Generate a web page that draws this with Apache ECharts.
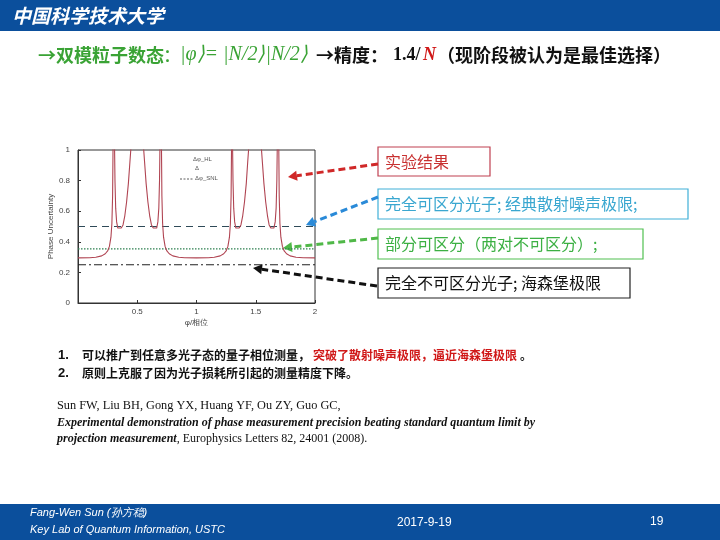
<!DOCTYPE html>
<html><head><meta charset="utf-8">
<script src="https://cdn.jsdelivr.net/npm/echarts@6/dist/echarts.min.js"></script>
<style>html,body{margin:0;padding:0;background:#fff;}#c{width:720px;height:540px;}</style>
</head><body><div id="c"></div>
<script>
// ---- data ----
var xTicks = [0.5, 1, 1.5, 2];
var yTicks = [0, 0.2, 0.4, 0.6, 0.8, 1];
var snlLevel = 0.5;        // dashed: shot-noise limit
var partialLevel = 0.354;  // dotted: partially distinguishable
var hlLevel = 0.25;        // dash-dot: Heisenberg limit
var branch1 = [[0,0.295],[0.1,0.296],[0.15,0.299],[0.2,0.308],[0.23,0.322],[0.25,0.34],[0.265,0.37],[0.278,0.43],[0.286,0.52],[0.292,0.7],[0.296,1.05]];
var branch2 = [[0.308,1.05],[0.312,0.8],[0.318,0.62],[0.326,0.53],[0.336,0.49],[0.35,0.478],[0.365,0.49],[0.38,0.51],[0.395,0.57],[0.41,0.66],[0.425,0.78],[0.438,0.92],[0.45,1.05]];
var branch3 = [[0.55,1.05],[0.562,0.92],[0.575,0.78],[0.59,0.66],[0.605,0.57],[0.62,0.51],[0.635,0.49],[0.65,0.478],[0.664,0.49],[0.674,0.53],[0.682,0.62],[0.688,0.8],[0.692,1.05]];
var branch4 = [[0.704,1.05],[0.708,0.7],[0.714,0.52],[0.722,0.43],[0.735,0.37],[0.75,0.34],[0.77,0.322],[0.8,0.308],[0.85,0.299],[0.9,0.296],[1.0,0.295],[1.1,0.296],[1.15,0.299],[1.2,0.308],[1.23,0.322],[1.25,0.34],[1.265,0.37],[1.278,0.43],[1.286,0.52],[1.292,0.7],[1.296,1.05]];
var branch5 = [[1.304,1.05],[1.308,0.8],[1.314,0.62],[1.322,0.53],[1.332,0.49],[1.346,0.478],[1.36,0.49],[1.375,0.51],[1.39,0.57],[1.405,0.66],[1.42,0.78],[1.432,0.92],[1.444,1.05]];
var branch6 = [[1.544,1.05],[1.556,0.92],[1.569,0.78],[1.584,0.66],[1.599,0.57],[1.613,0.51],[1.627,0.49],[1.64,0.478],[1.653,0.49],[1.664,0.53],[1.672,0.62],[1.678,0.8],[1.682,1.05]];
var branch7 = [[1.694,1.05],[1.698,0.7],[1.704,0.52],[1.712,0.43],[1.725,0.37],[1.74,0.34],[1.76,0.322],[1.79,0.308],[1.84,0.299],[1.9,0.296],[2.0,0.295]];
var branches = [branch1, branch2, branch3, branch4, branch5, branch6, branch7];
var annotations = ['实验结果', '完全可区分光子; 经典散射噪声极限;', '部分可区分（两对不可区分）;', '完全不可区分光子; 海森堡极限'];

var chart = echarts.init(document.getElementById('c'), null, {renderer:'canvas'});
var CJK = '"Noto Sans CJK SC", sans-serif';
var BLUE = '#0b4f9c';

var series = branches.map(function(b){
  return {type:'line', data:b, showSymbol:false, symbol:'none', clip:true, silent:true,
    lineStyle:{color:'#b04452', width:1.1}, z:3};
});
function hline(v, type, color, w){
  return {type:'line', data:[[0,v],[2,v]], showSymbol:false, symbol:'none', silent:true,
    lineStyle:{color:color, width:w, type:type}, z:2};
}
series.push(hline(snlLevel, [7,5], '#2f4a58', 1.2));
series.push(hline(partialLevel, [1.5,1.5], '#2e8050', 1.2));
series.push(hline(hlLevel, [8,3,2,3], '#222', 1.2));

function arrow(x1,y1,x2,y2,color){
  var dx=x2-x1, dy=y2-y1, L=Math.sqrt(dx*dx+dy*dy), ux=dx/L, uy=dy/L;
  var hl=9, hw=5;
  var bx=x2-ux*hl, by=y2-uy*hl;
  return {type:'group', children:[
    {type:'line', shape:{x1:x1,y1:y1,x2:bx,y2:by}, style:{stroke:color, lineWidth:3, lineDash:[7,4]}},
    {type:'polygon', shape:{points:[[x2,y2],[bx-uy*hw,by+ux*hw],[bx+uy*hw,by-ux*hw]]}, style:{fill:color}}
  ]};
}
function box(x,y,w,h,border,text,color){
  return {type:'group', children:[
    {type:'rect', shape:{x:x,y:y,width:w,height:h}, style:{fill:'#fff', stroke:border, lineWidth:1.2}},
    {type:'text', x:x+7, y:y+h/2, style:{text:text, fill:color, font:'16px '+CJK, textVerticalAlign:'middle'}}
  ]};
}
function txt(x,y,t,font,color,align){
  return {type:'text', x:x, y:y, style:{text:t, font:font, fill:color, textVerticalAlign:'middle', textAlign:align||'left'}};
}

var graphic = [
  {type:'rect', shape:{x:0,y:0,width:720,height:31}, style:{fill:BLUE}},
  txt(12,16,'中国科学技术大学','italic bold 19px '+CJK,'#fff'),
  {type:'rect', shape:{x:0,y:504,width:720,height:36}, style:{fill:BLUE}},
  txt(30,513,'Fang-Wen Sun (孙方稳)','italic 11px "Liberation Sans", Arial, sans-serif','#fff'),
  txt(30,530,'Key Lab of Quantum Information, USTC','italic 11px "Liberation Sans", Arial, sans-serif','#fff'),
  txt(397,523,'2017-9-19','12px "Liberation Sans", Arial, sans-serif','#fff'),
  txt(650,522,'19','12px "Liberation Sans", Arial, sans-serif','#fff'),
  // title
  txt(38,55,'→双模粒子数态','bold 18px '+CJK,'#3aa335'),
  txt(163,55,'：','18px '+CJK,'#3aa335'),
  txt(180,55,'|φ⟩= |N/2⟩|N/2⟩','italic 20px "Liberation Serif", serif','#3aa335'),
  txt(316,55,'→精度：','bold 18px '+CJK,'#111'),
  txt(393,55,'1.4/','bold 18px "Liberation Serif", serif','#111'),
  txt(423,55,'N','italic bold 18px "Liberation Serif", serif','#d01818'),
  txt(437,55,'（现阶段被认为是最佳选择）','bold 18px '+CJK,'#111'),
  // list
  txt(58,355,'1.','bold 13px "Liberation Sans", Arial, sans-serif','#111'),
  txt(82,355,'可以推广到任意多光子态的量子相位测量，','bold 12px '+CJK,'#111'),
  txt(313,355,'突破了散射噪声极限，逼近海森堡极限','bold 12px '+CJK,'#d01818'),
  txt(520,355,'。','bold 12px '+CJK,'#111'),
  txt(58,373,'2.','bold 13px "Liberation Sans", Arial, sans-serif','#111'),
  txt(82,373,'原则上克服了因为光子损耗所引起的测量精度下降。','bold 12px '+CJK,'#111'),
  // reference
  txt(57,406,'Sun FW, Liu BH, Gong YX, Huang YF, Ou ZY, Guo GC,','12.3px "Liberation Serif", serif','#111'),
  txt(57,423,'Experimental demonstration of phase measurement precision beating standard quantum limit by','italic bold 12px "Liberation Serif", serif','#111'),
  {type:'text', x:57, y:439, style:{text:'{b|projection measurement}, Europhysics Letters 82, 24001 (2008).', font:'12px "Liberation Serif", serif', fill:'#111', textVerticalAlign:'middle',
    rich:{b:{font:'italic bold 12px "Liberation Serif", serif', fill:'#111'}}}},
  // in-plot legend
  txt(193,159,'Δφ_HL','6px "Liberation Sans", Arial, sans-serif','#555'),
  txt(195,168,'Δ','6px "Liberation Sans", Arial, sans-serif','#555'),
  {type:'line', shape:{x1:180,y1:179,x2:193,y2:179}, style:{stroke:'#333', lineWidth:0.8, lineDash:[2,1.5]}},
  txt(195,178,'Δφ_SNL','6px "Liberation Sans", Arial, sans-serif','#555'),
  // annotation boxes
  box(378,147,112,29,'#c04050',annotations[0],'#c83030'),
  box(378,189,310,30,'#40b0d8',annotations[1],'#3aa7d0'),
  box(378,229,265,30,'#50c050',annotations[2],'#3cb043'),
  box(378,268,252,30,'#222',annotations[3],'#111'),
  arrow(378,164,288,177,'#d02828'),
  arrow(378,197,306,225,'#2a8ad8'),
  arrow(378,238,283,248,'#50b848'),
  arrow(377,286,253,268,'#111')
];

chart.setOption({
  animation:false,
  backgroundColor:'#fff',
  grid:{left:78, top:150, width:237, height:153, show:true, borderColor:'#333', borderWidth:1, containLabel:false},
  xAxis:{type:'value', min:0, max:2, interval:0.5,
    name:'φ/相位', nameLocation:'middle', nameGap:16, nameTextStyle:{fontSize:8, color:'#444'},
    axisLine:{lineStyle:{color:'#333'}}, axisTick:{inside:true, length:3, lineStyle:{color:'#333'}},
    axisLabel:{fontSize:8, color:'#444', margin:5, formatter:function(v){return v===0?'':String(v);}},
    splitLine:{show:false}},
  yAxis:{type:'value', min:0, max:1, interval:0.2,
    name:'Phase Uncertainty', nameLocation:'middle', nameGap:22, nameTextStyle:{fontSize:8, color:'#444'},
    axisLine:{show:true, lineStyle:{color:'#333'}}, axisTick:{show:true, inside:true, length:3, lineStyle:{color:'#333'}},
    axisLabel:{fontSize:8, color:'#444', margin:8, formatter:function(v){return String(v);}},
    splitLine:{show:false}},
  series:series,
  graphic:graphic
});
</script>
</body></html>
